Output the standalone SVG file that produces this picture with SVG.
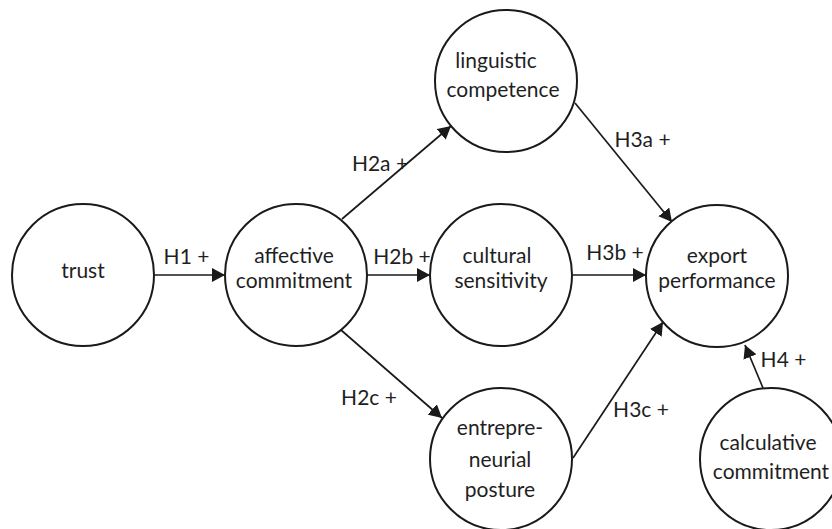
<svg xmlns="http://www.w3.org/2000/svg" width="832" height="529" viewBox="0 0 832 529">
<style>
  .node { fill: #ffffff; stroke: #1a1a1a; stroke-width: 2; }
  .lbl { font-family: Lato, "Liberation Sans", sans-serif; font-size: 21px; fill: #1f1f1f; text-anchor: middle; }
  .edge { stroke: #1a1a1a; stroke-width: 1.7; fill: none; marker-end: url(#arr); }
</style>
<defs>
  <marker id="arr" viewBox="0 0 13 14" refX="13" refY="7" markerWidth="13" markerHeight="14" orient="auto" markerUnits="userSpaceOnUse">
    <path d="M0,0 L13,7 L0,14 z" fill="#1a1a1a"/>
  </marker>
</defs>
<rect width="832" height="529" fill="#ffffff"/>
<g id="connectors">
  <line class="edge" x1="154" y1="275" x2="225" y2="275"/>
  <line class="edge" x1="342" y1="219" x2="451" y2="126"/>
  <line class="edge" x1="367" y1="275" x2="430" y2="275"/>
  <line class="edge" x1="341" y1="330" x2="442" y2="418"/>
  <line class="edge" x1="575" y1="103" x2="672" y2="222"/>
  <line class="edge" x1="572" y1="275" x2="646" y2="275"/>
  <line class="edge" x1="573" y1="458" x2="663" y2="322"/>
  <line class="edge" x1="763" y1="388" x2="745" y2="345"/>
  <text class="lbl" x="186.5" y="264">H1 +</text>
  <text class="lbl" x="380" y="171">H2a +</text>
  <text class="lbl" x="402" y="264">H2b +</text>
  <text class="lbl" x="369" y="405">H2c +</text>
  <text class="lbl" x="642.5" y="147">H3a +</text>
  <text class="lbl" x="615" y="260">H3b +</text>
  <text class="lbl" x="641" y="417">H3c +</text>
  <text class="lbl" x="783.5" y="367">H4 +</text>
</g>
<g id="trust">
  <circle class="node" cx="83" cy="275" r="71"/>
  <text class="lbl" x="83" y="278">trust</text>
</g>
<g id="affective-commitment">
  <circle class="node" cx="296" cy="275" r="71"/>
  <text class="lbl" x="294" y="263">affective</text>
  <text class="lbl" x="294" y="288">commitment</text>
</g>
<g id="linguistic-competence">
  <circle class="node" cx="506" cy="81" r="71"/>
  <text class="lbl" x="496" y="68">linguistic</text>
  <text class="lbl" x="503" y="97">competence</text>
</g>
<g id="cultural-sensitivity">
  <circle class="node" cx="501" cy="275" r="71"/>
  <text class="lbl" x="497" y="263">cultural</text>
  <text class="lbl" x="501" y="288">sensitivity</text>
</g>
<g id="entrepreneurial-posture">
  <circle class="node" cx="501" cy="459" r="71"/>
  <text class="lbl" x="500" y="435">entrepre-</text>
  <text class="lbl" x="500" y="467">neurial</text>
  <text class="lbl" x="500" y="497">posture</text>
</g>
<g id="export-performance">
  <circle class="node" cx="717" cy="276" r="71"/>
  <text class="lbl" x="717" y="263">export</text>
  <text class="lbl" x="717" y="288">performance</text>
</g>
<g id="calculative-commitment">
  <circle class="node" cx="771" cy="459" r="71"/>
  <text class="lbl" x="768" y="450">calculative</text>
  <text class="lbl" x="771" y="479">commitment</text>
</g>
</svg>
